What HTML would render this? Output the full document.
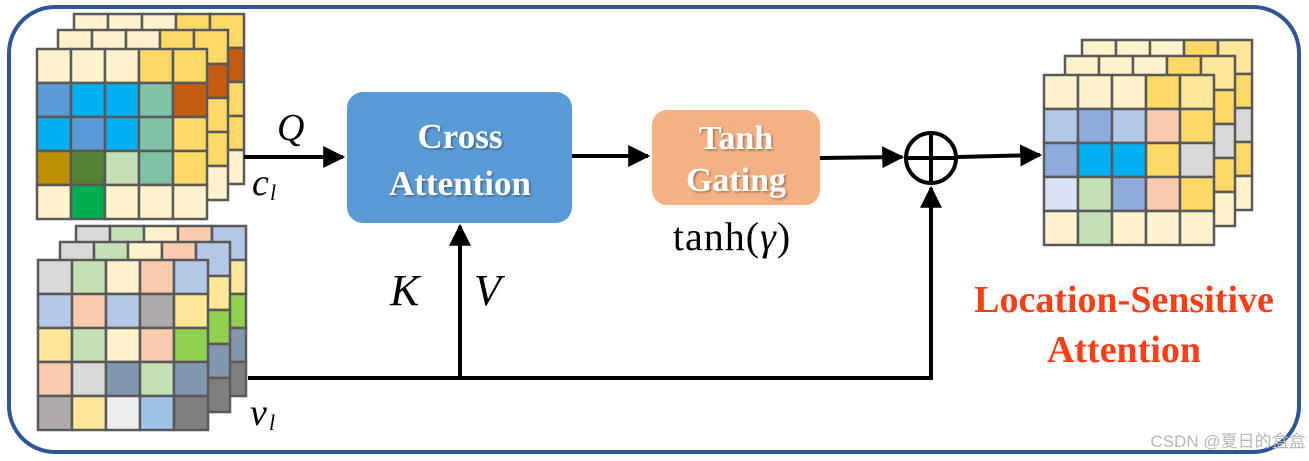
<!DOCTYPE html>
<html><head><meta charset="utf-8"><style>
html,body{margin:0;padding:0;background:#fff;width:1309px;height:461px;overflow:hidden}
svg{display:block}
</style></head><body>
<svg width="1309" height="461" viewBox="0 0 1309 461" xmlns="http://www.w3.org/2000/svg">
<defs>
<marker id="ah" viewBox="0 0 10 10" refX="9" refY="5" markerWidth="5.5" markerHeight="5.5" orient="auto"><path d="M0,0 L10,5 L0,10 z" fill="#000"/></marker>
<filter id="sh"><feDropShadow dx="1.5" dy="1.5" stdDeviation="1" flood-color="#000" flood-opacity="0.35"/></filter>
</defs>
<rect x="9" y="7" width="1290" height="445" rx="46" fill="#fff" stroke="#2F5597" stroke-width="4"/>

<g stroke="#595959" stroke-width="2.5">
<g transform="translate(74,14)">
<rect x="0" y="0" width="34" height="34" fill="#FFF2CC"/><rect x="34" y="0" width="34" height="34" fill="#FFF2CC"/><rect x="68" y="0" width="34" height="34" fill="#FFF2CC"/><rect x="102" y="0" width="34" height="34" fill="#FFD966"/><rect x="136" y="0" width="34" height="34" fill="#FFD966"/>
<rect x="136" y="34" width="34" height="34" fill="#C55A11"/><rect x="136" y="68" width="34" height="34" fill="#FFD966"/><rect x="136" y="102" width="34" height="34" fill="#FFD966"/><rect x="136" y="136" width="34" height="34" fill="#FFF2CC"/>
</g>
<g transform="translate(58,30)">
<rect x="0" y="0" width="34" height="34" fill="#FFF2CC"/><rect x="34" y="0" width="34" height="34" fill="#FFF2CC"/><rect x="68" y="0" width="34" height="34" fill="#FFF2CC"/><rect x="102" y="0" width="34" height="34" fill="#FFD966"/><rect x="136" y="0" width="34" height="34" fill="#FFD966"/>
<rect x="136" y="34" width="34" height="34" fill="#C55A11"/><rect x="136" y="68" width="34" height="34" fill="#FFD966"/><rect x="136" y="102" width="34" height="34" fill="#FFD966"/><rect x="136" y="136" width="34" height="34" fill="#FFF2CC"/>
</g>
<g transform="translate(37,49)">
<rect x="0" y="0" width="34" height="34" fill="#FFF2CC"/><rect x="34" y="0" width="34" height="34" fill="#FFF2CC"/><rect x="68" y="0" width="34" height="34" fill="#FFF2CC"/><rect x="102" y="0" width="34" height="34" fill="#FFD966"/><rect x="136" y="0" width="34" height="34" fill="#FFD966"/>
<rect x="0" y="34" width="34" height="34" fill="#5B9BD5"/><rect x="34" y="34" width="34" height="34" fill="#00B0F0"/><rect x="68" y="34" width="34" height="34" fill="#00B0F0"/><rect x="102" y="34" width="34" height="34" fill="#80C2A8"/><rect x="136" y="34" width="34" height="34" fill="#C55A11"/>
<rect x="0" y="68" width="34" height="34" fill="#00B0F0"/><rect x="34" y="68" width="34" height="34" fill="#5B9BD5"/><rect x="68" y="68" width="34" height="34" fill="#00B0F0"/><rect x="102" y="68" width="34" height="34" fill="#80C2A8"/><rect x="136" y="68" width="34" height="34" fill="#FFD966"/>
<rect x="0" y="102" width="34" height="34" fill="#BF9000"/><rect x="34" y="102" width="34" height="34" fill="#548235"/><rect x="68" y="102" width="34" height="34" fill="#C5E0B4"/><rect x="102" y="102" width="34" height="34" fill="#80C2A8"/><rect x="136" y="102" width="34" height="34" fill="#FFD966"/>
<rect x="0" y="136" width="34" height="34" fill="#FFF2CC"/><rect x="34" y="136" width="34" height="34" fill="#00B050"/><rect x="68" y="136" width="34" height="34" fill="#FFF2CC"/><rect x="102" y="136" width="34" height="34" fill="#FFF2CC"/><rect x="136" y="136" width="34" height="34" fill="#FFF2CC"/>
</g>

<g transform="translate(76,226)">
<rect x="0" y="0" width="34" height="34" fill="#D9D9D9"/><rect x="34" y="0" width="34" height="34" fill="#C5E0B4"/><rect x="68" y="0" width="34" height="34" fill="#FFF2CC"/><rect x="102" y="0" width="34" height="34" fill="#F8CBAD"/><rect x="136" y="0" width="34" height="34" fill="#B4C7E7"/>
<rect x="136" y="34" width="34" height="34" fill="#FFE699"/><rect x="136" y="68" width="34" height="34" fill="#92D050"/><rect x="136" y="102" width="34" height="34" fill="#8497B0"/><rect x="136" y="136" width="34" height="34" fill="#7F7F7F"/>
</g>
<g transform="translate(60,242)">
<rect x="0" y="0" width="34" height="34" fill="#D9D9D9"/><rect x="34" y="0" width="34" height="34" fill="#C5E0B4"/><rect x="68" y="0" width="34" height="34" fill="#FFF2CC"/><rect x="102" y="0" width="34" height="34" fill="#F8CBAD"/><rect x="136" y="0" width="34" height="34" fill="#B4C7E7"/>
<rect x="136" y="34" width="34" height="34" fill="#FFE699"/><rect x="136" y="68" width="34" height="34" fill="#92D050"/><rect x="136" y="102" width="34" height="34" fill="#8497B0"/><rect x="136" y="136" width="34" height="34" fill="#7F7F7F"/>
</g>
<g transform="translate(38,260)">
<rect x="0" y="0" width="34" height="34" fill="#D9D9D9"/><rect x="34" y="0" width="34" height="34" fill="#C5E0B4"/><rect x="68" y="0" width="34" height="34" fill="#FFF2CC"/><rect x="102" y="0" width="34" height="34" fill="#F8CBAD"/><rect x="136" y="0" width="34" height="34" fill="#B4C7E7"/>
<rect x="0" y="34" width="34" height="34" fill="#B4C7E7"/><rect x="34" y="34" width="34" height="34" fill="#F8CBAD"/><rect x="68" y="34" width="34" height="34" fill="#B4C7E7"/><rect x="102" y="34" width="34" height="34" fill="#AEAAAA"/><rect x="136" y="34" width="34" height="34" fill="#FFE699"/>
<rect x="0" y="68" width="34" height="34" fill="#FFE699"/><rect x="34" y="68" width="34" height="34" fill="#C5E0B4"/><rect x="68" y="68" width="34" height="34" fill="#FFF2CC"/><rect x="102" y="68" width="34" height="34" fill="#F8CBAD"/><rect x="136" y="68" width="34" height="34" fill="#92D050"/>
<rect x="0" y="102" width="34" height="34" fill="#F8CBAD"/><rect x="34" y="102" width="34" height="34" fill="#D9D9D9"/><rect x="68" y="102" width="34" height="34" fill="#8497B0"/><rect x="102" y="102" width="34" height="34" fill="#C5E0B4"/><rect x="136" y="102" width="34" height="34" fill="#8497B0"/>
<rect x="0" y="136" width="34" height="34" fill="#AEAAAA"/><rect x="34" y="136" width="34" height="34" fill="#FFE699"/><rect x="68" y="136" width="34" height="34" fill="#EDEDED"/><rect x="102" y="136" width="34" height="34" fill="#9DC3E6"/><rect x="136" y="136" width="34" height="34" fill="#7F7F7F"/>
</g>

<g transform="translate(1082,40)">
<rect x="0" y="0" width="34" height="34" fill="#FFF2CC"/><rect x="34" y="0" width="34" height="34" fill="#FFF2CC"/><rect x="68" y="0" width="34" height="34" fill="#FFF2CC"/><rect x="102" y="0" width="34" height="34" fill="#FFD966"/><rect x="136" y="0" width="34" height="34" fill="#FFE699"/>
<rect x="136" y="34" width="34" height="34" fill="#FFD966"/><rect x="136" y="68" width="34" height="34" fill="#D9D9D9"/><rect x="136" y="102" width="34" height="34" fill="#FFD966"/><rect x="136" y="136" width="34" height="34" fill="#FFF2CC"/>
</g>
<g transform="translate(1065,56)">
<rect x="0" y="0" width="34" height="34" fill="#FFF2CC"/><rect x="34" y="0" width="34" height="34" fill="#FFF2CC"/><rect x="68" y="0" width="34" height="34" fill="#FFF2CC"/><rect x="102" y="0" width="34" height="34" fill="#FFD966"/><rect x="136" y="0" width="34" height="34" fill="#FFE699"/>
<rect x="136" y="34" width="34" height="34" fill="#FFD966"/><rect x="136" y="68" width="34" height="34" fill="#D9D9D9"/><rect x="136" y="102" width="34" height="34" fill="#FFD966"/><rect x="136" y="136" width="34" height="34" fill="#FFF2CC"/>
</g>
<g transform="translate(1044,75)">
<rect x="0" y="0" width="34" height="34" fill="#FFF2CC"/><rect x="34" y="0" width="34" height="34" fill="#FFF2CC"/><rect x="68" y="0" width="34" height="34" fill="#FFF2CC"/><rect x="102" y="0" width="34" height="34" fill="#FFD966"/><rect x="136" y="0" width="34" height="34" fill="#FFE699"/>
<rect x="0" y="34" width="34" height="34" fill="#B4C7E7"/><rect x="34" y="34" width="34" height="34" fill="#8FAADC"/><rect x="68" y="34" width="34" height="34" fill="#B4C7E7"/><rect x="102" y="34" width="34" height="34" fill="#F8CBAD"/><rect x="136" y="34" width="34" height="34" fill="#FFD966"/>
<rect x="0" y="68" width="34" height="34" fill="#8FAADC"/><rect x="34" y="68" width="34" height="34" fill="#00B0F0"/><rect x="68" y="68" width="34" height="34" fill="#00B0F0"/><rect x="102" y="68" width="34" height="34" fill="#FFD966"/><rect x="136" y="68" width="34" height="34" fill="#D9D9D9"/>
<rect x="0" y="102" width="34" height="34" fill="#DAE3F3"/><rect x="34" y="102" width="34" height="34" fill="#C5E0B4"/><rect x="68" y="102" width="34" height="34" fill="#8FAADC"/><rect x="102" y="102" width="34" height="34" fill="#F8CBAD"/><rect x="136" y="102" width="34" height="34" fill="#FFD966"/>
<rect x="0" y="136" width="34" height="34" fill="#FFF2CC"/><rect x="34" y="136" width="34" height="34" fill="#C5E0B4"/><rect x="68" y="136" width="34" height="34" fill="#FFF2CC"/><rect x="102" y="136" width="34" height="34" fill="#FFF2CC"/><rect x="136" y="136" width="34" height="34" fill="#FFF2CC"/>
</g>
</g>

<rect x="347" y="92" width="225" height="131" rx="16" fill="#5B9BD5"/>
<g font-family="Liberation Serif, serif" font-weight="bold" fill="#fff" text-anchor="middle" filter="url(#sh)">
<text x="460" y="148" font-size="35">Cross</text>
<text x="460" y="195" font-size="35">Attention</text>
</g>
<rect x="652" y="110" width="168" height="95" rx="15" fill="#F4B183"/>
<g font-family="Liberation Serif, serif" font-weight="bold" fill="#fff" text-anchor="middle" filter="url(#sh)">
<text x="736" y="149" font-size="34">Tanh</text>
<text x="736" y="191" font-size="34">Gating</text>
</g>

<g stroke="#000" stroke-width="4" fill="none">
<line x1="244" y1="157" x2="343" y2="157" marker-end="url(#ah)"/>
<line x1="572" y1="156" x2="648" y2="156" marker-end="url(#ah)"/>
<line x1="820" y1="158" x2="902" y2="157" marker-end="url(#ah)"/>
<line x1="958" y1="157" x2="1040" y2="155" marker-end="url(#ah)"/>
<polyline points="248,378 931,378 931,188" marker-end="url(#ah)"/>
<line x1="460" y1="378" x2="460" y2="226" marker-end="url(#ah)"/>
<circle cx="931" cy="158" r="25"/>
<line x1="906" y1="158" x2="956" y2="158"/>
<line x1="931" y1="133" x2="931" y2="183"/>
</g>

<g font-family="Liberation Serif, serif" font-style="italic" fill="#000">
<text x="277" y="140" font-size="38">Q</text>
<text x="252" y="195" font-size="38">c</text><text x="270" y="200" font-size="22">l</text>
<text x="390" y="305" font-size="44">K</text>
<text x="474" y="305" font-size="44">V</text>
<text x="250" y="425" font-size="38">v</text><text x="269" y="430" font-size="22">l</text>
</g>
<text x="732" y="250" font-family="Liberation Serif, serif" font-size="40" text-anchor="middle" letter-spacing="1">tanh(<tspan font-style="italic">γ</tspan>)</text>
<g font-family="Liberation Serif, serif" font-weight="bold" fill="#FF3D17" text-anchor="middle" font-size="38">
<text x="1124" y="312">Location-Sensitive</text>
<text x="1124" y="362">Attention</text>
</g>
<text x="1228" y="447" font-family="Liberation Sans, Noto Sans CJK SC, sans-serif" font-size="17" fill="#b8b8b8" text-anchor="middle">CSDN @夏日的盒盒</text>
</svg>
</body></html>
